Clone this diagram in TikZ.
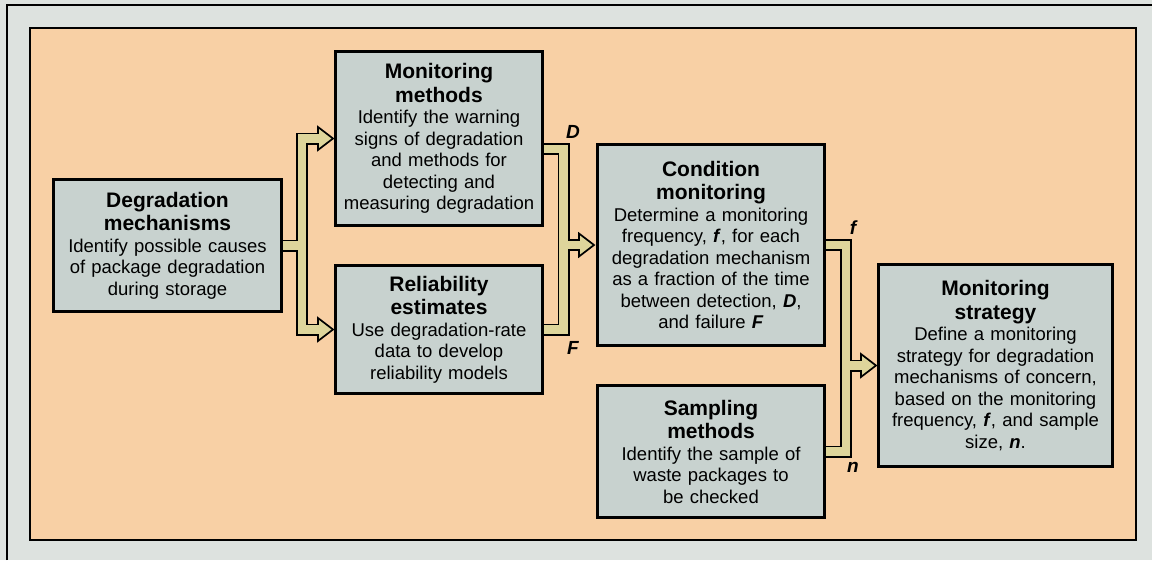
\documentclass[tikz,border=0pt]{standalone}
\usepackage{fontspec}
\setmainfont{Liberation Sans}
\usetikzlibrary{calc}
\definecolor{bggray}{RGB}{221,226,223}
\definecolor{orangebg}{RGB}{248,208,165}
\definecolor{boxgray}{RGB}{200,210,207}
\definecolor{arrowy}{RGB}{222,213,155}
\newcommand{\hd}[1]{{\fontsize{21}{23.5}\selectfont\bfseries #1\par}}
\newcommand{\varb}[1]{\textbf{\textit{#1}}}
\pgfdeclarelayer{back}
\pgfdeclarelayer{conn}
\pgfsetlayers{back,conn,main}
\begin{document}
\begin{tikzpicture}[x=1pt,y=-1pt,
  box/.style={draw=black, line width=2.8pt, fill=boxgray, align=center, inner sep=0pt,
    font=\fontsize{18.5}{21.5}\selectfont},
  connb/.style={line width=12pt, draw=black, line join=miter, line cap=butt},
  connf/.style={line width=8.6pt, draw=arrowy, line join=miter, line cap=butt},
  headshape/.style={fill=arrowy, draw=black, line width=1.7pt, line join=miter},
  varlabel/.style={font=\fontsize{19}{21}\selectfont\bfseries\itshape, inner sep=0pt}
]
\useasboundingbox (0,0) rectangle (1152,560);
% boxes
\node[box, minimum width=228.2pt, minimum height=132.2pt, text width=224pt] (dm) at (167.5,245.5)
 {\hd{Degradation\\mechanisms}Identify possible causes\\of package degradation\\during storage};
\node[box, minimum width=207.2pt, minimum height=174.2pt, text width=204pt] (mm) at (439,138.5)
 {\hd{Monitoring\\methods}Identify the warning\\signs of degradation\\and methods for\\detecting and\\measuring degradation};
\node[box, minimum width=207.2pt, minimum height=128.2pt, text width=204pt] (re) at (439,329.5)
 {\hd{Reliability\\estimates}Use degradation-rate\\data to develop\\reliability models};
\node[box, minimum width=227.2pt, minimum height=201.2pt, text width=224pt] (cm) at (711,245)
 {\hd{Condition\\monitoring}Determine a monitoring\\frequency, \varb{f}, for each\\degradation mechanism\\as a fraction of the time\\between detection, \varb{D},\\and failure \varb{F}};
\node[box, minimum width=227.2pt, minimum height=132.2pt, text width=224pt] (sm) at (711,451.5)
 {\hd{Sampling\\methods}Identify the sample of\\waste packages to\\be checked};
\node[box, minimum width=234.2pt, minimum height=202.2pt, text width=230pt] (ms) at (995.5,365.5)
 {\hd{Monitoring\\strategy}Define a monitoring\\strategy for degradation\\mechanisms of concern,\\based on the monitoring\\frequency, \varb{f}, and sample\\size, \varb{n}.};
% labels
\node[varlabel] (lD) at (573,132) {D};
\node[varlabel] (lF) at (573,348) {F};
\node[varlabel] (lf) at (853,228) {f};
\node[varlabel] (ln) at (853,467) {n};
% junction coordinates
\coordinate (t1) at (302,245);
\coordinate (t2) at (563.5,245);
\coordinate (t3) at (846,245);
\coordinate (mmE) at ($(mm.east)+(0,10.5)$);
\coordinate (h1) at ($(mm.west)+(-1,0)$);
\coordinate (h2) at ($(re.west)+(-1,0)$);
\coordinate (h3) at ($(cm.west)+(-2,0)$);
\coordinate (h4) at ($(ms.west)+(-1,0)$);
\coordinate (b1) at ($(h1)+(-15,0)$);
\coordinate (b2) at ($(h2)+(-15,0)$);
\coordinate (b3) at ($(h3)+(-15,0)$);
\coordinate (b4) at ($(h4)+(-15,0)$);
\coordinate (c1) at ($(h1)+(-14,0)$);
\coordinate (c2) at ($(h2)+(-14,0)$);
\coordinate (c3) at ($(h3)+(-14,0)$);
\coordinate (c4) at ($(h4)+(-14,0)$);
\begin{pgfonlayer}{back}
\fill[bggray] (0,0) rectangle (1152,560);
\draw[line width=1.8pt] (7,560) -- (7,5) -- (1152,5);
\filldraw[fill=orangebg, draw=black, line width=1.8pt] (30,28) rectangle (1136,540);
\end{pgfonlayer}
\begin{pgfonlayer}{conn}
% black outlines
\draw[connb] (dm.east) -- (t1 |- dm.east);
\draw[connb] (b1) -- (t1 |- h1) -- (t1 |- h2) -- (b2);
\draw[connb] (mmE) -- (t2 |- mmE) -- (t2 |- re.east) -- (re.east);
\draw[connb] (t2 |- h3) -- (b3);
\draw[connb] (cm.east) -- (t3 |- cm.east) -- (t3 |- sm.east) -- (sm.east);
\draw[connb] (t3 |- h4) -- (b4);
% heads
\foreach \h in {h1,h2,h3,h4}
  \filldraw[headshape] (\h) -- ++(-15,-11.5) -- ++(0,23) -- cycle;
% yellow fills
\draw[connf] (dm.east) -- (t1 |- dm.east);
\draw[connf] (c1) -- (t1 |- h1) -- (t1 |- h2) -- (c2);
\draw[connf] (mmE) -- (t2 |- mmE) -- (t2 |- re.east) -- (re.east);
\draw[connf] (t2 |- h3) -- (c3);
\draw[connf] (cm.east) -- (t3 |- cm.east) -- (t3 |- sm.east) -- (sm.east);
\draw[connf] (t3 |- h4) -- (c4);
\end{pgfonlayer}
\end{tikzpicture}
\end{document}
